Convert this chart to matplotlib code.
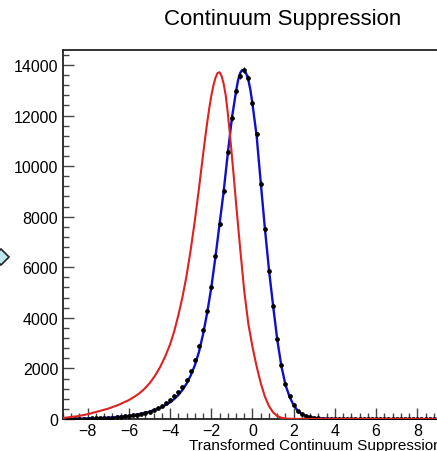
import numpy as np
import matplotlib
matplotlib.use("Agg")
from matplotlib import rcParams

rcParams["font.family"] = ["Liberation Sans", "DejaVu Sans"]
import matplotlib.pyplot as plt

# fitted signal shape (blue)
fit_x = [-9.2, -8.0, -7.0, -6.0, -5.5, -5.0, -4.5, -4.2, -4.0, -3.8, -3.6, -3.4,
         -3.2, -3.0, -2.8, -2.6, -2.4, -2.2, -2.0, -1.8, -1.6, -1.4, -1.2, -1.0,
         -0.8, -0.7, -0.6, -0.5, -0.4, -0.3, -0.2, -0.1, 0.0, 0.2, 0.4, 0.6, 0.8,
         1.0, 1.2, 1.4, 1.6, 1.8, 2.0, 2.2, 2.4, 2.6, 2.8, 3.0, 3.5, 4.0, 5.0, 9.5]
fit_y = [5, 20, 50, 120, 190, 290, 430, 560, 660, 790, 950, 1150,
         1400, 1720, 2120, 2650, 3350, 4200, 5200, 6400, 7700, 9000, 10500, 11900,
         12950, 13400, 13680, 13800, 13780, 13650, 13400, 13000, 12450, 11200, 9350, 7550, 5900,
         4480, 3150, 2100, 1350, 880, 540, 320, 190, 115, 70, 42, 15, 5, 2, 0]

# background shape (red)
bkg_x = [-9.2, -8.5, -8.0, -7.5, -7.0, -6.5, -6.0, -5.75, -5.5, -5.25, -5.0, -4.75,
         -4.5, -4.25, -4.0, -3.8, -3.6, -3.4, -3.2, -3.0, -2.8, -2.6, -2.4, -2.3,
         -2.2, -2.1, -2.0, -1.9, -1.8, -1.7, -1.6, -1.5, -1.4, -1.3, -1.2, -1.1,
         -1.0, -0.9, -0.8, -0.6, -0.4, -0.2, 0.0, 0.2, 0.4, 0.6, 0.8, 1.0, 1.2,
         1.4, 1.6, 2.0, 9.5]
bkg_y = [40, 110, 190, 300, 410, 560, 750, 870, 1010, 1190, 1410, 1690,
         2030, 2450, 2950, 3470, 4100, 4820, 5670, 6690, 7840, 9110, 10450, 11100,
         11720, 12280, 12780, 13180, 13480, 13680, 13710, 13560, 13250, 12800, 12100, 11300,
         10400, 9500, 8550, 6750, 5050, 3750, 2850, 2080, 1420, 890, 510, 260, 120,
         50, 20, 5, 0]

# histogram counts, bin centres -9.0 ... 9.0
data_x = np.round(np.arange(-9.0, 9.01, 0.2), 2)
data_y = [5, 7, 9, 12, 15, 18, 22, 27, 33, 40, 48,
          58, 70, 84, 100, 120, 143, 170, 200, 240, 290,
          350, 420, 510, 620, 750, 900, 1070, 1280, 1560, 1900,
          2350, 2900, 3500, 4280, 5230, 6450, 7700, 9000, 10550, 11900,
          12950, 13550, 13800, 13500, 12500, 11250, 9300, 7500, 5850, 4450,
          3150, 2150, 1400, 900, 560, 320, 190, 115, 70, 42,
          28, 18, 12, 8, 5, 3, 2, 1, 1, 0,
          0, 0, 0, 0, 0, 0, 0, 0, 0, 0,
          0, 0, 0, 0, 0, 0, 0, 0, 0, 0]
data_err = np.sqrt(np.array(data_y, dtype=float))

W, H = 437, 452
fig = plt.figure(figsize=(W / 100, H / 100), dpi=100)
ax = fig.add_axes([63 / W, 32 / H, (442 - 63) / W, (420 - 51) / H])

ax.plot(fit_x, fit_y, color="#1010c8", lw=1.7, zorder=2)
ax.errorbar(data_x, data_y, yerr=data_err, fmt="o", color="black", ms=2.4,
            elinewidth=0.8, capsize=0, zorder=3)
ax.plot(bkg_x, bkg_y, color="#dd2222", lw=1.5, zorder=4)

ax.set_xlim(-9.2, 9.2)
ax.set_ylim(0, 14590)
ax.set_xticks(np.arange(-8, 9, 2))
ax.set_xticks(np.arange(-9.2, 9.21, 0.4), minor=True)
ax.set_yticks(np.arange(0, 14001, 2000))
ax.set_yticks(np.arange(0, 14590, 400), minor=True)
ax.tick_params(which="both", direction="in", top=False, right=False,
               color="#444444", labelsize=11.5, width=1.0)
ax.tick_params(which="major", length=8)
ax.tick_params(which="minor", length=4)
ax.tick_params(axis="x", pad=3)
for side in ["left", "bottom", "top", "right"]:
    ax.spines[side].set_color("#222222")
    ax.spines[side].set_linewidth(1.3)

ax.set_xlabel("Transformed Continuum Suppression", fontsize=11, loc="right",
              labelpad=0)

fig.text(283 / W, 1 - 20 / H, "Continuum Suppression", fontsize=16,
         ha="center", va="center")

# stray page widget at the left edge
fig.add_artist(plt.Line2D([1 / W], [1 - 258 / H], marker="D", ms=8,
                          markerfacecolor="#bfe8ee", markeredgecolor="#222222",
                          markeredgewidth=1.2, transform=fig.transFigure))

fig.savefig("out.png", dpi=100)
